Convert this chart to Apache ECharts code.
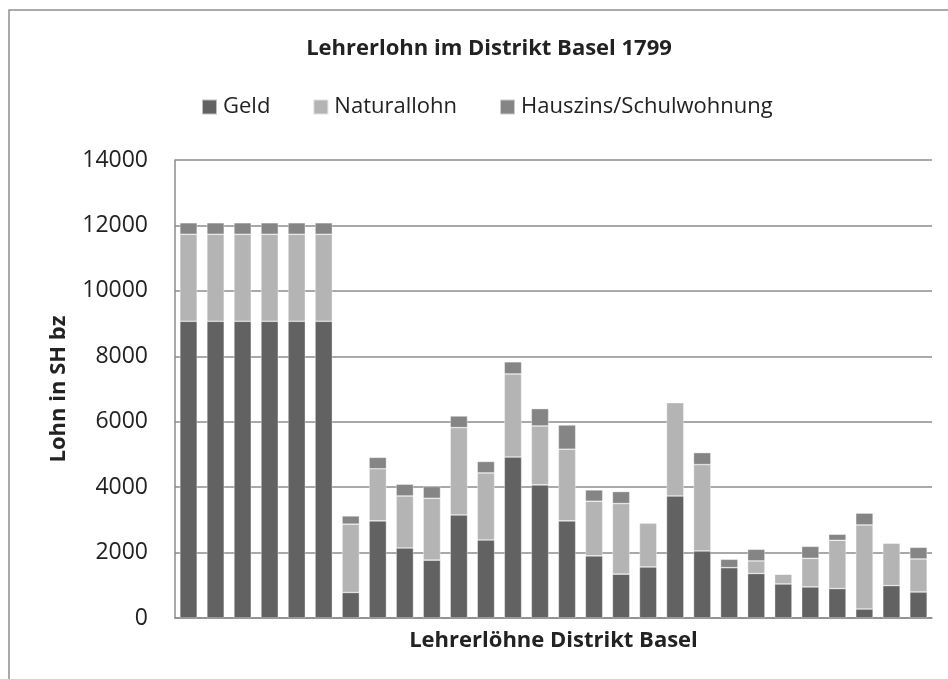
<!DOCTYPE html>
<html>
<head>
<meta charset="utf-8">
<title>Lehrerlohn im Distrikt Basel 1799</title>
<script src="https://cdn.jsdelivr.net/npm/echarts@6/dist/echarts.min.js"></script>
<style>
  html, body { margin: 0; padding: 0; background: #fff; }
  #chart { width: 948px; height: 679px; }
</style>
</head>
<body>
<div id="chart"></div>
<script>
var schulen = [];
for (var i = 1; i <= 28; i++) schulen.push('S' + i);

var geld = [9070, 9070, 9070, 9070, 9070, 9070,
  780, 2970, 2140, 1770, 3150, 2385, 4920, 4070, 2970, 1900, 1340, 1560,
  3730, 2050, 1540, 1360, 1040, 950, 900, 275, 990, 795];
var naturallohn = [2660, 2660, 2660, 2660, 2660, 2660,
  2090, 1590, 1590, 1890, 2670, 2050, 2540, 1800, 2190, 1670, 2160, 1345,
  2855, 2640, 0, 385, 300, 875, 1475, 2570, 1300, 1010];
var hauszins = [350, 350, 350, 350, 350, 350,
  250, 350, 360, 360, 355, 350, 370, 530, 740, 345, 365, 0,
  0, 365, 255, 355, 0, 365, 185, 360, 0, 355];

var yTicks = [0, 2000, 4000, 6000, 8000, 10000, 12000, 14000];

var font = 'Open Sans';
var myChart = echarts.init(document.getElementById('chart'));

function serie(name, color, data) {
  return {
    name: name,
    type: 'bar',
    stack: 'lohn',
    barCategoryGap: '36%',
    itemStyle: {
      color: color,
      borderColor: 'rgba(255,255,255,0.6)',
      borderWidth: 0.6
    },
    emphasis: { disabled: true },
    data: data
  };
}

myChart.setOption({
  animation: false,
  title: {
    text: 'Lehrerlohn im Distrikt Basel 1799',
    left: 484,
    top: 33,
    textAlign: 'center',
    textStyle: {
      fontFamily: font,
      fontWeight: 'bold',
      fontSize: 22,
      color: '#222'
    }
  },
  legend: {
    left: 201,
    top: 96,
    padding: 0,
    itemWidth: 15,
    itemHeight: 15,
    itemGap: 42,
    icon: 'rect',
    textStyle: {
      fontFamily: font,
      fontSize: 22,
      color: '#222',
      padding: [0, 0, 0, 1]
    },
    data: ['Geld', 'Naturallohn', 'Hauszins/Schulwohnung']
  },
  graphic: [{
    type: 'rect',
    shape: { x: 9, y: 10, width: 1200, height: 1200 },
    style: { fill: 'none', stroke: '#8e8e8e', lineWidth: 1.5 },
    silent: true
  }],
  grid: {
    left: 175,
    right: 16,
    top: 160,
    bottom: 61
  },
  xAxis: {
    type: 'category',
    data: schulen,
    name: 'Lehrerlöhne Distrikt Basel',
    nameLocation: 'middle',
    nameGap: 12,
    nameTextStyle: {
      fontFamily: font,
      fontWeight: 'bold',
      fontSize: 22,
      color: '#222',
      verticalAlign: 'top'
    },
    axisLabel: { show: false },
    axisTick: { show: false },
    axisLine: { lineStyle: { color: '#8c8c8c', width: 1.5 } }
  },
  yAxis: {
    type: 'value',
    min: yTicks[0],
    max: yTicks[yTicks.length - 1],
    interval: 2000,
    name: 'Lohn in SH bz',
    nameLocation: 'middle',
    nameGap: 105,
    nameRotate: 90,
    nameTextStyle: {
      fontFamily: font,
      fontWeight: 'bold',
      fontSize: 22,
      color: '#222'
    },
    axisLabel: {
      margin: 27,
      fontFamily: font,
      fontSize: 23,
      color: '#222',
      formatter: function (v) { return String(v); }
    },
    axisTick: { show: false },
    axisLine: { show: true, lineStyle: { color: '#8c8c8c', width: 1.5 } },
    splitLine: { lineStyle: { color: '#8c8c8c', width: 1.5 } }
  },
  series: [
    serie('Geld', '#626262', geld),
    serie('Naturallohn', '#b3b4b3', naturallohn),
    serie('Hauszins/Schulwohnung', '#858585', hauszins)
  ]
});
</script>
</body>
</html>
